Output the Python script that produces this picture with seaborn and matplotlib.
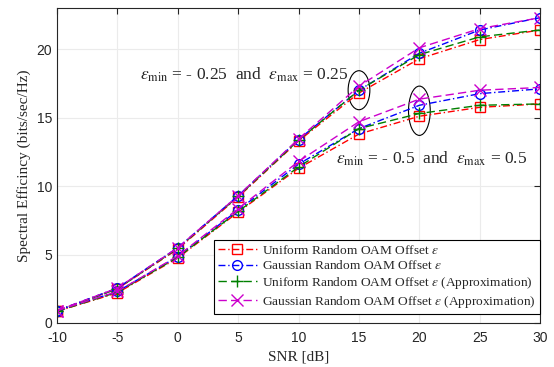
import matplotlib
matplotlib.use("Agg")
import matplotlib.pyplot as plt
from matplotlib.colors import to_hex
from matplotlib.patches import Ellipse
import pandas as pd
import seaborn as sns

snr = [-10, -5, 0, 5, 10, 15, 20, 25, 30]

# eps in [-0.25, 0.25]
unif_025 = [0.9, 2.5, 5.4, 9.2, 13.3, 16.8, 19.3, 20.7, 21.4]
gauss_025 = [0.9, 2.55, 5.5, 9.3, 13.4, 17.0, 19.7, 21.4, 22.3]
unif_apx_025 = [0.85, 2.5, 5.45, 9.25, 13.35, 17.0, 19.6, 20.9, 21.4]
gauss_apx_025 = [0.9, 2.55, 5.5, 9.3, 13.45, 17.3, 20.1, 21.5, 22.3]

# eps in [-0.5, 0.5]
unif_05 = [0.85, 2.2, 4.75, 8.1, 11.3, 13.8, 15.1, 15.75, 16.0]
gauss_05 = [0.9, 2.3, 4.85, 8.25, 11.6, 14.2, 15.9, 16.75, 17.1]
unif_apx_05 = [0.85, 2.25, 4.8, 8.15, 11.4, 14.2, 15.3, 15.9, 16.0]
gauss_apx_05 = [0.9, 2.3, 4.9, 8.35, 11.8, 14.7, 16.35, 17.0, 17.2]

labels = [r"Uniform Random OAM Offset $\epsilon$",
          r"Gaussian Random OAM Offset $\epsilon$",
          r"Uniform Random OAM Offset $\epsilon$ (Approximation)",
          r"Gaussian Random OAM Offset $\epsilon$ (Approximation)"]
colors = ["#ff0000", "#0000ff", "#008000", "#cc00cc"]
markers = ["s", "o", "+", "x"]

groups = [
    (unif_025, unif_05),
    (gauss_025, gauss_05),
    (unif_apx_025, unif_apx_05),
    (gauss_apx_025, gauss_apx_05),
]
rows = []
for lab, (a, b) in zip(labels, groups):
    for grp, vals in (("0.25", a), ("0.5", b)):
        for x, y in zip(snr, vals):
            rows.append({"snr": x, "se": y, "series": lab, "eps": grp})
df = pd.DataFrame(rows)

sns.set_style("whitegrid")
plt.rcParams["font.family"] = ["Liberation Serif", "DejaVu Serif"]
plt.rcParams["mathtext.fontset"] = "stix"
plt.rcParams["axes.unicode_minus"] = False

fig = plt.figure(figsize=(5.54, 3.67), dpi=100)
ax = fig.add_axes([0.103, 0.12, 0.872, 0.858])

# seaborn won't mix filled and line-art markers, so swap them in afterwards
sns.lineplot(data=df, x="snr", y="se", hue="series", style="series",
             units="eps", estimator=None, ax=ax,
             palette=dict(zip(labels, colors)),
             markers=dict(zip(labels, ["s", "o", "s", "o"])),
             dashes=dict(zip(labels, [(5, 2, 1, 2), (5, 2, 1, 2), (6, 3), (6, 3)])),
             linewidth=1, markersize=7)

marker_of = dict(zip(colors, markers))


def restyle(line):
    c = to_hex(line.get_color())
    if c in marker_of:
        line.set_marker(marker_of[c])
        line.set_markersize(7 if marker_of[c] in "so" else 8)
    line.set_markerfacecolor("none")
    line.set_markeredgecolor(c)
    line.set_markeredgewidth(1)


for line in ax.get_lines():
    restyle(line)

ax.set_xlim(-10, 30)
ax.set_ylim(0, 23)
ax.set_xticks(range(-10, 31, 5))
ax.set_yticks([0, 5, 10, 15, 20])
for t in ax.get_xticklabels() + ax.get_yticklabels():
    t.set_family("Liberation Sans")
    t.set_fontsize(10)
ax.tick_params(direction="in", top=True, right=True, length=4, colors="#262626")
ax.tick_params(axis="x", pad=6)
ax.grid(True, color="#ebebeb", linewidth=0.8)
for s in ax.spines.values():
    s.set_color("#262626")
    s.set_linewidth(0.8)

ax.set_xlabel("SNR [dB]", fontsize=11)
ax.set_ylabel("Spectral Efficincy (bits/sec/Hz)", fontsize=11)

ax.add_patch(Ellipse((15, 17.0), 1.8, 2.85, fill=False, color="black", linewidth=0.8))
ax.add_patch(Ellipse((20, 15.5), 1.8, 3.6, fill=False, color="black", linewidth=0.8))

ax.text(-3.1, 18.1, r"$\epsilon_{\rm min}$ = - 0.25  and  $\epsilon_{\rm max}$ = 0.25",
        fontsize=12.5, ha="left", va="center")
ax.text(13.1, 12.0, r"$\epsilon_{\rm min}$ = - 0.5  and  $\epsilon_{\rm max}$ = 0.5",
        fontsize=12.5, ha="left", va="center")

handles, _ = ax.get_legend_handles_labels()
for h in handles:
    restyle(h)
leg = ax.legend(handles, labels, loc="lower right", bbox_to_anchor=(0.999, 0.03),
                fontsize=9.6, frameon=True, fancybox=False, borderaxespad=0,
                handlelength=2.9, labelspacing=0.2, borderpad=0.3,
                handletextpad=0.4)
leg.get_frame().set_edgecolor("black")
leg.get_frame().set_linewidth(0.8)
leg.get_frame().set_alpha(1)

fig.savefig("out.png", dpi=100)
